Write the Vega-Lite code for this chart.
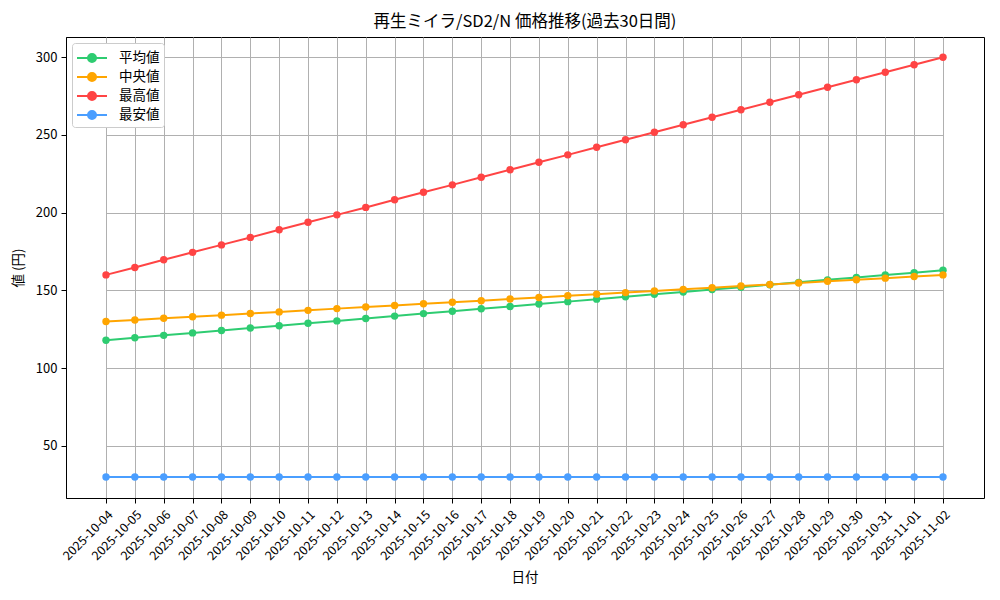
{
  "$schema": "https://vega.github.io/schema/vega-lite/v6.json",
  "autosize": "none",
  "width": 918,
  "height": 461,
  "padding": {"left": 66, "top": 37, "right": 16, "bottom": 102},
  "background": "white",
  "config": {
    "font": "Noto Sans CJK JP",
    "view": {"stroke": "black", "strokeWidth": 1}
  },
  "title": {
    "text": "再生ミイラ/SD2/N 価格推移(過去30日間)",
    "fontSize": 16.5,
    "fontWeight": "normal",
    "color": "black",
    "offset": 7
  },
  "data": {
    "values": [
      {"date": "2025-10-04", "series": "平均値", "value": 118.0},
      {"date": "2025-10-05", "series": "平均値", "value": 119.6},
      {"date": "2025-10-06", "series": "平均値", "value": 121.1},
      {"date": "2025-10-07", "series": "平均値", "value": 122.7},
      {"date": "2025-10-08", "series": "平均値", "value": 124.2},
      {"date": "2025-10-09", "series": "平均値", "value": 125.8},
      {"date": "2025-10-10", "series": "平均値", "value": 127.3},
      {"date": "2025-10-11", "series": "平均値", "value": 128.9},
      {"date": "2025-10-12", "series": "平均値", "value": 130.4},
      {"date": "2025-10-13", "series": "平均値", "value": 132.0},
      {"date": "2025-10-14", "series": "平均値", "value": 133.5},
      {"date": "2025-10-15", "series": "平均値", "value": 135.1},
      {"date": "2025-10-16", "series": "平均値", "value": 136.6},
      {"date": "2025-10-17", "series": "平均値", "value": 138.2},
      {"date": "2025-10-18", "series": "平均値", "value": 139.7},
      {"date": "2025-10-19", "series": "平均値", "value": 141.3},
      {"date": "2025-10-20", "series": "平均値", "value": 142.8},
      {"date": "2025-10-21", "series": "平均値", "value": 144.4},
      {"date": "2025-10-22", "series": "平均値", "value": 145.9},
      {"date": "2025-10-23", "series": "平均値", "value": 147.5},
      {"date": "2025-10-24", "series": "平均値", "value": 149.0},
      {"date": "2025-10-25", "series": "平均値", "value": 150.6},
      {"date": "2025-10-26", "series": "平均値", "value": 152.1},
      {"date": "2025-10-27", "series": "平均値", "value": 153.7},
      {"date": "2025-10-28", "series": "平均値", "value": 155.2},
      {"date": "2025-10-29", "series": "平均値", "value": 156.8},
      {"date": "2025-10-30", "series": "平均値", "value": 158.3},
      {"date": "2025-10-31", "series": "平均値", "value": 159.9},
      {"date": "2025-11-01", "series": "平均値", "value": 161.4},
      {"date": "2025-11-02", "series": "平均値", "value": 163.0},
      {"date": "2025-10-04", "series": "中央値", "value": 130.0},
      {"date": "2025-10-05", "series": "中央値", "value": 131.0},
      {"date": "2025-10-06", "series": "中央値", "value": 132.1},
      {"date": "2025-10-07", "series": "中央値", "value": 133.1},
      {"date": "2025-10-08", "series": "中央値", "value": 134.1},
      {"date": "2025-10-09", "series": "中央値", "value": 135.2},
      {"date": "2025-10-10", "series": "中央値", "value": 136.2},
      {"date": "2025-10-11", "series": "中央値", "value": 137.2},
      {"date": "2025-10-12", "series": "中央値", "value": 138.3},
      {"date": "2025-10-13", "series": "中央値", "value": 139.3},
      {"date": "2025-10-14", "series": "中央値", "value": 140.3},
      {"date": "2025-10-15", "series": "中央値", "value": 141.4},
      {"date": "2025-10-16", "series": "中央値", "value": 142.4},
      {"date": "2025-10-17", "series": "中央値", "value": 143.4},
      {"date": "2025-10-18", "series": "中央値", "value": 144.5},
      {"date": "2025-10-19", "series": "中央値", "value": 145.5},
      {"date": "2025-10-20", "series": "中央値", "value": 146.6},
      {"date": "2025-10-21", "series": "中央値", "value": 147.6},
      {"date": "2025-10-22", "series": "中央値", "value": 148.6},
      {"date": "2025-10-23", "series": "中央値", "value": 149.7},
      {"date": "2025-10-24", "series": "中央値", "value": 150.7},
      {"date": "2025-10-25", "series": "中央値", "value": 151.7},
      {"date": "2025-10-26", "series": "中央値", "value": 152.8},
      {"date": "2025-10-27", "series": "中央値", "value": 153.8},
      {"date": "2025-10-28", "series": "中央値", "value": 154.8},
      {"date": "2025-10-29", "series": "中央値", "value": 155.9},
      {"date": "2025-10-30", "series": "中央値", "value": 156.9},
      {"date": "2025-10-31", "series": "中央値", "value": 157.9},
      {"date": "2025-11-01", "series": "中央値", "value": 159.0},
      {"date": "2025-11-02", "series": "中央値", "value": 160.0},
      {"date": "2025-10-04", "series": "最高値", "value": 160.0},
      {"date": "2025-10-05", "series": "最高値", "value": 164.8},
      {"date": "2025-10-06", "series": "最高値", "value": 169.7},
      {"date": "2025-10-07", "series": "最高値", "value": 174.5},
      {"date": "2025-10-08", "series": "最高値", "value": 179.3},
      {"date": "2025-10-09", "series": "最高値", "value": 184.1},
      {"date": "2025-10-10", "series": "最高値", "value": 189.0},
      {"date": "2025-10-11", "series": "最高値", "value": 193.8},
      {"date": "2025-10-12", "series": "最高値", "value": 198.6},
      {"date": "2025-10-13", "series": "最高値", "value": 203.4},
      {"date": "2025-10-14", "series": "最高値", "value": 208.3},
      {"date": "2025-10-15", "series": "最高値", "value": 213.1},
      {"date": "2025-10-16", "series": "最高値", "value": 217.9},
      {"date": "2025-10-17", "series": "最高値", "value": 222.8},
      {"date": "2025-10-18", "series": "最高値", "value": 227.6},
      {"date": "2025-10-19", "series": "最高値", "value": 232.4},
      {"date": "2025-10-20", "series": "最高値", "value": 237.2},
      {"date": "2025-10-21", "series": "最高値", "value": 242.1},
      {"date": "2025-10-22", "series": "最高値", "value": 246.9},
      {"date": "2025-10-23", "series": "最高値", "value": 251.7},
      {"date": "2025-10-24", "series": "最高値", "value": 256.6},
      {"date": "2025-10-25", "series": "最高値", "value": 261.4},
      {"date": "2025-10-26", "series": "最高値", "value": 266.2},
      {"date": "2025-10-27", "series": "最高値", "value": 271.0},
      {"date": "2025-10-28", "series": "最高値", "value": 275.9},
      {"date": "2025-10-29", "series": "最高値", "value": 280.7},
      {"date": "2025-10-30", "series": "最高値", "value": 285.5},
      {"date": "2025-10-31", "series": "最高値", "value": 290.3},
      {"date": "2025-11-01", "series": "最高値", "value": 295.2},
      {"date": "2025-11-02", "series": "最高値", "value": 300.0},
      {"date": "2025-10-04", "series": "最安値", "value": 30},
      {"date": "2025-10-05", "series": "最安値", "value": 30},
      {"date": "2025-10-06", "series": "最安値", "value": 30},
      {"date": "2025-10-07", "series": "最安値", "value": 30},
      {"date": "2025-10-08", "series": "最安値", "value": 30},
      {"date": "2025-10-09", "series": "最安値", "value": 30},
      {"date": "2025-10-10", "series": "最安値", "value": 30},
      {"date": "2025-10-11", "series": "最安値", "value": 30},
      {"date": "2025-10-12", "series": "最安値", "value": 30},
      {"date": "2025-10-13", "series": "最安値", "value": 30},
      {"date": "2025-10-14", "series": "最安値", "value": 30},
      {"date": "2025-10-15", "series": "最安値", "value": 30},
      {"date": "2025-10-16", "series": "最安値", "value": 30},
      {"date": "2025-10-17", "series": "最安値", "value": 30},
      {"date": "2025-10-18", "series": "最安値", "value": 30},
      {"date": "2025-10-19", "series": "最安値", "value": 30},
      {"date": "2025-10-20", "series": "最安値", "value": 30},
      {"date": "2025-10-21", "series": "最安値", "value": 30},
      {"date": "2025-10-22", "series": "最安値", "value": 30},
      {"date": "2025-10-23", "series": "最安値", "value": 30},
      {"date": "2025-10-24", "series": "最安値", "value": 30},
      {"date": "2025-10-25", "series": "最安値", "value": 30},
      {"date": "2025-10-26", "series": "最安値", "value": 30},
      {"date": "2025-10-27", "series": "最安値", "value": 30},
      {"date": "2025-10-28", "series": "最安値", "value": 30},
      {"date": "2025-10-29", "series": "最安値", "value": 30},
      {"date": "2025-10-30", "series": "最安値", "value": 30},
      {"date": "2025-10-31", "series": "最安値", "value": 30},
      {"date": "2025-11-01", "series": "最安値", "value": 30},
      {"date": "2025-11-02", "series": "最安値", "value": 30}
    ]
  },
  "mark": {
    "type": "line",
    "strokeWidth": 2,
    "point": {"filled": true, "size": 55, "opacity": 1}
  },
  "encoding": {
    "x": {
      "field": "date",
      "type": "ordinal",
      "sort": null,
      "scale": {"type": "point", "padding": 0, "range": [40, 877]},
      "axis": {
        "title": "日付",
        "titleFontSize": 13.5,
        "titleFontWeight": "normal",
        "titleColor": "black",
        "titlePadding": 8,
        "labelAngle": -45,
        "labelAlign": "right",
        "labelBaseline": "top",
        "labelFontSize": 12.5,
        "labelColor": "black",
        "labelPadding": 5,
        "grid": true,
        "gridColor": "#b0b0b0",
        "gridWidth": 1,
        "domainColor": "black",
        "tickColor": "black",
        "tickSize": 5
      }
    },
    "y": {
      "field": "value",
      "type": "quantitative",
      "scale": {"domain": [16.5, 313], "nice": false, "zero": false},
      "axis": {
        "title": "値 (円)",
        "titleFontSize": 13.5,
        "titleFontWeight": "normal",
        "titleColor": "black",
        "titlePadding": 10,
        "values": [50, 100, 150, 200, 250, 300],
        "labelFontSize": 13,
        "labelColor": "black",
        "labelPadding": 4,
        "grid": true,
        "gridColor": "#b0b0b0",
        "gridWidth": 1,
        "domainColor": "black",
        "tickColor": "black",
        "tickSize": 5
      }
    },
    "color": {
      "field": "series",
      "type": "nominal",
      "sort": null,
      "scale": {
        "domain": ["平均値", "中央値", "最高値", "最安値"],
        "range": ["#2ecc71", "#ffa500", "#ff4444", "#4a9eff"]
      },
      "legend": {
        "title": null,
        "orient": "top-left",
        "offset": 6,
        "padding": 4,
        "fillColor": "white",
        "strokeColor": "#cccccc",
        "cornerRadius": 3,
        "labelFontSize": 13.5,
        "labelColor": "black",
        "labelOffset": 16,
        "rowPadding": 0,
        "symbolOffset": 5,
        "symbolType": "M-1.5,0H1.5M-0.4,0A0.4,0.4,0,1,1,0.4,0A0.4,0.4,0,1,1,-0.4,0Z",
        "symbolSize": 400,
        "symbolStrokeWidth": 2,
        "encode": {
          "symbols": {
            "update": {
              "fill": {"scale": "color", "field": "value"},
              "stroke": {"scale": "color", "field": "value"},
              "opacity": {"value": 1}
            }
          }
        }
      }
    }
  }
}
